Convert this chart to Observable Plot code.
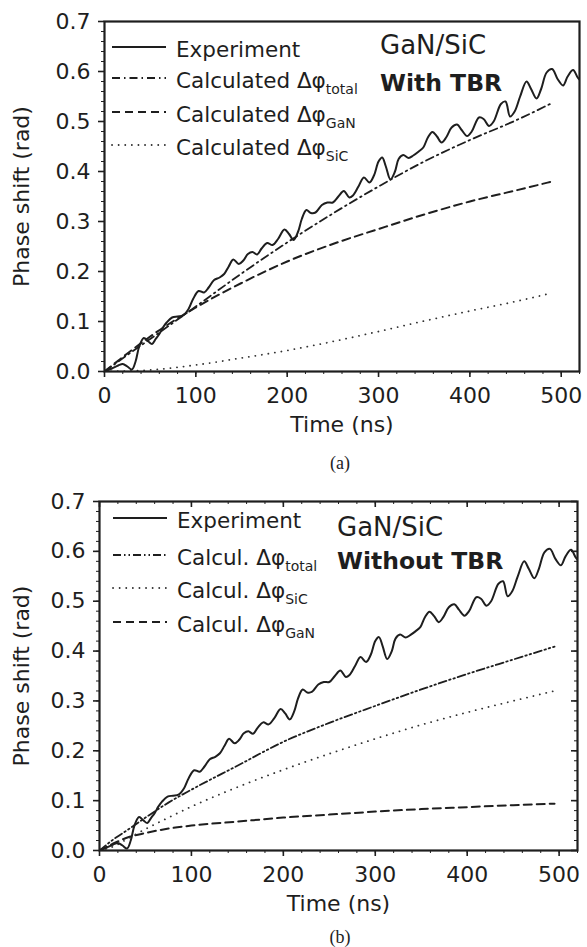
<!DOCTYPE html>
<html>
<head>
<meta charset="utf-8">
<script src="https://cdn.jsdelivr.net/npm/d3@7"></script>
<script src="https://cdn.jsdelivr.net/npm/@observablehq/plot@0.6"></script>
<style>
  body { margin: 0; background: #fff; }
  #root { position: relative; width: 587px; height: 947px; background: #fff; overflow: hidden; }
  .panel { position: absolute; left: 0; }
  .cap { position: absolute; left: 0; width: 680px; text-align: center; font-family: "Liberation Serif", "DejaVu Serif", serif; font-size: 18px; color: #222; line-height: 18px; }
</style>
</head>
<body>
<div id="root">
  <div id="pa" class="panel" style="top:0px"></div>
  <div class="cap" style="top:454px">(a)</div>
  <div id="pb" class="panel" style="top:480px"></div>
  <div class="cap" style="top:928px">(b)</div>
</div>
<script>
// ---------- data ----------
const expTime = [0, 8, 15, 20, 25, 30, 34, 38, 43, 48, 52, 56, 60, 64, 68, 74, 80, 86, 92, 97, 103, 109, 114, 120, 126, 131, 136, 141, 147, 152, 157, 162, 167, 172, 178, 184, 190, 197, 202, 207, 212, 216, 221, 226, 231, 238, 244, 250, 256, 262, 268, 272, 278, 284, 290, 295, 300, 304, 308, 313, 318, 322, 327, 333, 338, 344, 349, 354, 359, 364, 369, 374, 380, 386, 391, 397, 402, 410, 415, 421, 426, 434, 439, 444, 449, 455, 462, 467, 473, 478, 484, 490, 496, 502, 507, 513, 518, 522];
const experiment = [0, 0.006, 0.012, 0.015, 0.01, 0.004, 0.02, 0.05, 0.067, 0.06, 0.055, 0.065, 0.075, 0.088, 0.098, 0.108, 0.11, 0.112, 0.125, 0.145, 0.161, 0.158, 0.168, 0.183, 0.188, 0.195, 0.21, 0.224, 0.215, 0.222, 0.235, 0.239, 0.234, 0.246, 0.257, 0.253, 0.265, 0.284, 0.275, 0.263, 0.28, 0.305, 0.323, 0.317, 0.318, 0.333, 0.338, 0.338, 0.35, 0.361, 0.348, 0.352, 0.37, 0.388, 0.378, 0.392, 0.42, 0.428, 0.41, 0.384, 0.4, 0.425, 0.433, 0.427, 0.432, 0.44, 0.448, 0.468, 0.479, 0.47, 0.458, 0.468, 0.488, 0.494, 0.483, 0.471, 0.48, 0.508, 0.505, 0.491, 0.5, 0.535, 0.54, 0.51, 0.52, 0.55, 0.58, 0.565, 0.546, 0.565, 0.598, 0.605, 0.585, 0.572, 0.59, 0.603, 0.588, 0.58];

// panel (a): with TBR
const calcTimeA = [0, 25, 50, 100, 150, 200, 250, 300, 350, 400, 450, 490];
const totalA = [0, 0.033, 0.065, 0.13, 0.196, 0.258, 0.316, 0.37, 0.42, 0.463, 0.502, 0.537];
const ganA   = [0, 0.036, 0.07, 0.128, 0.177, 0.22, 0.255, 0.285, 0.314, 0.34, 0.362, 0.38];
const sicA   = [0, 0.001, 0.003, 0.013, 0.027, 0.042, 0.06, 0.08, 0.101, 0.121, 0.14, 0.157];

// panel (b): without TBR
const calcTimeB = [0, 15, 32, 50, 75, 100, 150, 200, 250, 300, 350, 400, 450, 495];
const totalB = [0, 0.022, 0.043, 0.066, 0.096, 0.122, 0.17, 0.218, 0.256, 0.29, 0.323, 0.354, 0.383, 0.409];
const sicB   = [0, 0.008, 0.025, 0.043, 0.066, 0.088, 0.127, 0.162, 0.194, 0.224, 0.252, 0.277, 0.3, 0.32];
const ganB   = [0, 0.014, 0.027, 0.035, 0.044, 0.05, 0.058, 0.066, 0.072, 0.078, 0.083, 0.087, 0.091, 0.094];

const xTicks = [0, 100, 200, 300, 400, 500];
const xMinor = d3.range(0, 521, 20);
const yTicks = [0, 0.1, 0.2, 0.3, 0.4, 0.5, 0.6, 0.7];
const yMinor = d3.range(0, 71, 2).map(d => d / 100);

const ink = "#1e1e1e";
const font = "'DejaVu Sans', 'Liberation Sans', Arial, sans-serif";
const styles = {
  exp:   {stroke: ink, strokeWidth: 2},
  dashdot: {stroke: ink, strokeWidth: 1.8, strokeDasharray: "8,4,1.5,4"},
  dashdotdot: {stroke: ink, strokeWidth: 1.8, strokeDasharray: "8,3,1.5,3,1.5,3"},
  dash:  {stroke: ink, strokeWidth: 2, strokeDasharray: "8,5"},
  dot:   {stroke: "#333", strokeWidth: 1.8, strokeDasharray: "0.1,6.5", strokeLinecap: "round"}
};

const zip = (xs, ys) => xs.map((x, i) => ({t: x, v: ys[i]}));
const blank = () => "";

function panel({mL, mR, mT, mB, height, series, boxTicks, yLabelOffset}) {
  const frameW = 587 - mL - mR;
  const frameH = height - mT - mB;
  const marks = [
    Plot.axisY({ticks: yMinor, tickSize: 3, tickFormat: blank, label: null, stroke: ink}),
    Plot.axisX({ticks: xMinor, tickSize: 3, tickFormat: blank, label: null, stroke: ink}),
    Plot.axisY({ticks: yTicks, tickSize: 6, tickPadding: 8, tickFormat: d3.format(".1f"), stroke: ink, strokeWidth: 1.6,
      fontSize: 22, fill: ink,
      label: "Phase shift (rad)", labelAnchor: "center", labelOffset: yLabelOffset, labelArrow: "none"}),
    Plot.axisX({ticks: xTicks, tickSize: 6, tickPadding: 10, tickFormat: d => String(d), stroke: ink, strokeWidth: 1.6,
      fontSize: 22, fill: ink,
      label: "Time (ns)", labelAnchor: "center", labelOffset: 60, labelArrow: "none"}),
  ];
  if (boxTicks) {
    marks.push(
      Plot.ruleX(xMinor, {x: d => d, insetBottom: frameH - 3, stroke: ink}),
      Plot.ruleX(xTicks, {x: d => d, insetBottom: frameH - 6, stroke: ink, strokeWidth: 1.6}),
      Plot.ruleY(yMinor, {y: d => d, insetLeft: frameW - 3, stroke: ink}),
      Plot.ruleY(yTicks, {y: d => d, insetLeft: frameW - 6, stroke: ink, strokeWidth: 1.6})
    );
  }
  for (const s of series) {
    marks.push(Plot.line(s.data, {x: "t", y: "v", curve: s.curve || "monotone-x", clip: true, ...styles[s.style]}));
  }
  marks.push(Plot.frame({stroke: ink, strokeWidth: 2.2}));
  return Plot.plot({
    width: 587, height,
    marginLeft: mL, marginRight: mR, marginTop: mT, marginBottom: mB,
    x: {domain: [0, 520]},
    y: {domain: [0, 0.7]},
    style: {fontFamily: font, fontSize: "22px", color: ink, background: "transparent", overflow: "visible"},
    marks
  });
}

function addLegend(svg, {x0, x1, tx, rows}) {
  const g = d3.select(svg).append("g")
    .attr("font-family", font).attr("fill", ink).attr("text-anchor", "start");
  for (const r of rows) {
    const st = styles[r.style];
    g.append("line").attr("x1", x0).attr("x2", x1).attr("y1", r.y).attr("y2", r.y)
      .attr("stroke", st.stroke).attr("stroke-width", st.strokeWidth)
      .attr("stroke-dasharray", st.strokeDasharray || null)
      .attr("stroke-linecap", st.strokeLinecap || null);
    const t = g.append("text").attr("x", tx).attr("y", r.y + 10).attr("font-size", 21.5);
    t.append("tspan").text(r.label);
    if (r.sub) {
      t.append("tspan").attr("font-size", 14).attr("dy", 6).text(r.sub);
    }
  }
}

function addTitle(svg, {x, y1, y2, line2}) {
  const g = d3.select(svg).append("g")
    .attr("font-family", font).attr("fill", ink).attr("text-anchor", "start");
  g.append("text").attr("x", x).attr("y", y1).attr("font-size", 26).text("GaN/SiC");
  g.append("text").attr("x", x).attr("y", y2).attr("font-size", 23.5).attr("font-weight", "bold").text(line2);
}

// ---------- panel (a) ----------
const svgA = panel({
  mL: 104, mR: 8, mT: 21, mB: 70, height: 441, boxTicks: false, yLabelOffset: 91,
  series: [
    {data: zip(calcTimeA, sicA), style: "dot"},
    {data: zip(calcTimeA, ganA), style: "dash"},
    {data: zip(calcTimeA, totalA), style: "dashdot"},
    {data: zip(expTime, experiment), style: "exp", curve: "catmull-rom"}
  ]
});
addLegend(svgA, {x0: 112, x1: 166, tx: 176, rows: [
  {y: 47, style: "exp", label: "Experiment"},
  {y: 78, style: "dashdot", label: "Calculated Δφ", sub: "total"},
  {y: 112, style: "dash", label: "Calculated Δφ", sub: "GaN"},
  {y: 145, style: "dot", label: "Calculated Δφ", sub: "SiC"}
]});
addTitle(svgA, {x: 380, y1: 54, y2: 91, line2: "With TBR"});
document.getElementById("pa").append(svgA);

// ---------- panel (b) ----------
const svgB = panel({
  mL: 99, mR: 10, mT: 21, mB: 80, height: 450, boxTicks: true, yLabelOffset: 86,
  series: [
    {data: zip(calcTimeB, ganB), style: "dash"},
    {data: zip(calcTimeB, sicB), style: "dot"},
    {data: zip(calcTimeB, totalB), style: "dashdotdot"},
    {data: zip(expTime, experiment), style: "exp", curve: "catmull-rom"}
  ]
});
addLegend(svgB, {x0: 113, x1: 167, tx: 177, rows: [
  {y: 38, style: "exp", label: "Experiment"},
  {y: 75, style: "dashdotdot", label: "Calcul. Δφ", sub: "total"},
  {y: 108, style: "dot", label: "Calcul. Δφ", sub: "SiC"},
  {y: 142, style: "dash", label: "Calcul. Δφ", sub: "GaN"}
]});
addTitle(svgB, {x: 337, y1: 56, y2: 89, line2: "Without TBR"});
document.getElementById("pb").append(svgB);
</script>
</body>
</html>
